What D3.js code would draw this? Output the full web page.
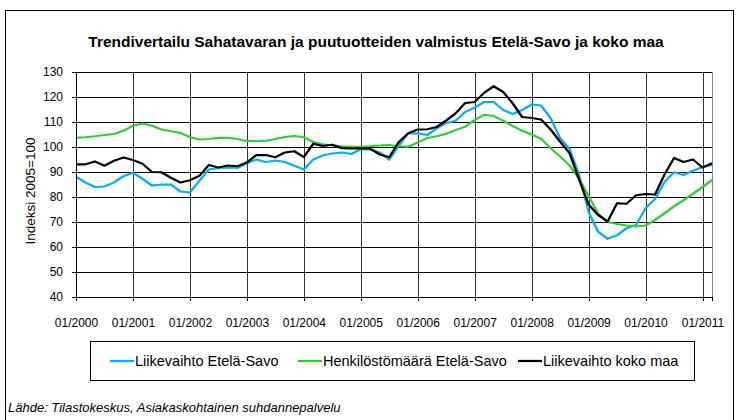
<!DOCTYPE html>
<html>
<head>
<meta charset="utf-8">
<script src="https://cdn.jsdelivr.net/npm/d3@7"></script>
<style>
  body { margin: 0; background: #fff; }
  text { font-family: "Liberation Sans", Arial, sans-serif; }
</style>
</head>
<body>
<script>
// month index counted from 01/2000, every second month up to 03/2011
var months = d3.range(0, 135, 2);

var liikevaihtoES = [88.1, 85.8, 84.0, 84.2, 85.8, 88.3, 89.7, 87.3, 84.6, 85.0,
  85.0, 82.2, 81.8, 86.5, 91.0, 91.6, 91.8, 91.6, 93.5, 95.0,
  94.0, 94.6, 94.0, 92.5, 91.0, 95.0, 96.6, 97.4, 97.8, 97.2,
  99.1, 99.0, 97.8, 95.0, 100.5, 105.5, 105.5, 104.8, 107.5, 109.6,
  110.5, 114.0, 115.8, 118.0, 118.0, 114.8, 113.2, 114.8, 117.0, 116.6,
  111.5, 103.5, 99.2, 88.8, 74.0, 66.1, 63.3, 64.7, 67.5, 68.8,
  75.5, 79.2, 86.0, 89.9, 88.8, 90.5, 92.0, 92.8];

var henkilostoES = [103.7, 103.9, 104.3, 104.8, 105.2, 106.5, 108.5, 109.4, 108.5, 107.0,
  106.3, 105.6, 104.0, 103.0, 103.2, 103.7, 103.7, 103.2, 102.4, 102.3,
  102.5, 103.2, 104.0, 104.4, 103.9, 102.0, 101.1, 100.7, 100.3, 100.1,
  100.1, 100.3, 100.6, 100.8, 100.3, 100.1, 101.8, 103.6, 104.3, 105.3,
  106.8, 108.1, 110.8, 112.9, 112.4, 110.5, 108.4, 106.5, 105.0, 103.3,
  99.5, 96.2, 92.6, 87.4, 80.4, 73.4, 70.0, 69.2, 68.6, 68.2,
  68.6, 70.8, 73.5, 76.3, 78.7, 81.3, 84.0, 86.8];

var liikevaihtoMaa = [93.1, 93.1, 94.2, 92.5, 94.5, 95.8, 94.8, 93.3, 90.0, 89.9,
  87.7, 85.8, 86.7, 88.5, 92.8, 91.8, 92.6, 92.3, 93.8, 96.8,
  96.8, 95.9, 97.8, 98.3, 96.0, 101.3, 100.4, 100.9, 99.5, 99.4,
  99.5, 99.3, 97.0, 95.9, 102.0, 105.5, 107.0, 107.1, 108.0, 110.6,
  113.5, 117.6, 118.0, 121.7, 124.3, 122.0, 117.5, 112.0, 111.6, 111.0,
  107.0, 102.1, 97.5, 87.0, 77.0, 72.8, 70.2, 77.5, 77.3, 80.7,
  81.2, 81.0, 89.0, 95.6, 94.0, 95.0, 91.8, 93.5];

var yearTicks = [0, 12, 24, 36, 48, 60, 72, 84, 96, 108, 120, 132];
var yearLabels = ["01/2000", "01/2001", "01/2002", "01/2003", "01/2004", "01/2005",
  "01/2006", "01/2007", "01/2008", "01/2009", "01/2010", "01/2011"];
var yTicks = [40, 50, 60, 70, 80, 90, 100, 110, 120, 130];

var seriesNames = ["Liikevaihto Etelä-Savo", "Henkilöstömäärä Etelä-Savo", "Liikevaihto koko maa"];
var colors = ["#00b0f0", "#33cc33", "#000000"];

var width = 739, height = 420;
var plot = {left: 76, right: 712, top: 72, bottom: 297};

var svg = d3.select("body").append("svg")
  .attr("width", width)
  .attr("height", height);

// outer frame
svg.append("rect")
  .attr("x", 5.5).attr("y", 10.5)
  .attr("width", 728).attr("height", 420)
  .attr("fill", "none")
  .attr("stroke", "#000")
  .attr("stroke-width", 1);

svg.append("text")
  .attr("x", 376).attr("y", 47)
  .attr("text-anchor", "middle")
  .style("font-size", "15.5px")
  .style("font-weight", "bold")
  .text("Trendivertailu Sahatavaran ja puutuotteiden valmistus Etelä-Savo ja koko maa");

var x = d3.scaleLinear().domain([0, 134]).range([plot.left, plot.right]);
var y = d3.scaleLinear().domain([40, 130]).range([plot.bottom, plot.top]);

// horizontal grid
svg.append("g")
  .attr("transform", "translate(" + plot.left + ",0)")
  .call(d3.axisLeft(y).tickValues(yTicks).tickSize(-(plot.right - plot.left)).tickFormat(""))
  .call(g => g.select(".domain").remove())
  .selectAll("line").attr("stroke", "#000").attr("shape-rendering", "crispEdges");

// vertical grid
svg.append("g")
  .attr("transform", "translate(0," + plot.bottom + ")")
  .call(d3.axisBottom(x).tickValues(yearTicks).tickSize(-(plot.bottom - plot.top)).tickFormat(""))
  .call(g => g.select(".domain").remove())
  .selectAll("line").attr("stroke", "#333").attr("shape-rendering", "crispEdges");

// right edge of plot area
svg.append("line")
  .attr("x1", plot.right).attr("x2", plot.right)
  .attr("y1", plot.top).attr("y2", plot.bottom)
  .attr("stroke", "#888").attr("shape-rendering", "crispEdges");

// lines
var line = d3.line()
  .x((d, i) => x(months[i]))
  .y(d => y(d));

[liikevaihtoES, henkilostoES, liikevaihtoMaa].forEach(function(s, k) {
  svg.append("path")
    .datum(s)
    .attr("fill", "none")
    .attr("stroke", colors[k])
    .attr("stroke-width", 2.25)
    .attr("stroke-linejoin", "round")
    .attr("d", line);
});

// y axis
var yAxis = svg.append("g")
  .attr("transform", "translate(" + plot.left + ",0)")
  .call(d3.axisLeft(y).tickValues(yTicks).tickSize(4).tickPadding(9));
yAxis.selectAll("line, path").attr("stroke", "#000").attr("shape-rendering", "crispEdges");
yAxis.selectAll("text").style("font-size", "12px").attr("fill", "#000")
  .style("font-family", "'Liberation Sans', Arial, sans-serif");

// x axis
var xAxis = svg.append("g")
  .attr("transform", "translate(0," + plot.bottom + ")")
  .call(d3.axisBottom(x).tickValues(yearTicks).tickSize(4).tickPadding(17)
    .tickFormat((d, i) => yearLabels[i]));
xAxis.selectAll("line, path").attr("stroke", "#000").attr("shape-rendering", "crispEdges");
xAxis.selectAll("text").style("font-size", "12px").attr("fill", "#000")
  .style("font-family", "'Liberation Sans', Arial, sans-serif");

svg.append("text")
  .attr("transform", "translate(35,191) rotate(-90)")
  .attr("text-anchor", "middle")
  .style("font-size", "13.5px")
  .text("Indeksi 2005=100");

// legend
svg.append("rect")
  .attr("x", 90.5).attr("y", 341.5)
  .attr("width", 604).attr("height", 39)
  .attr("fill", "#fff")
  .attr("stroke", "#000");

var legendX = [110, 298, 518];
var leg = svg.selectAll(".leg")
  .data(seriesNames)
  .enter().append("g")
  .attr("transform", (d, i) => "translate(" + legendX[i] + ",361)");
leg.append("line")
  .attr("x1", 0).attr("x2", 24)
  .attr("stroke", (d, i) => colors[i])
  .attr("stroke-width", 2.25);
leg.append("text")
  .attr("x", 25).attr("y", 5)
  .style("font-size", "14.5px")
  .text(d => d);

svg.append("text")
  .attr("x", 8).attr("y", 412)
  .style("font-size", "13px")
  .style("font-style", "italic")
  .text("Lähde: Tilastokeskus, Asiakaskohtainen suhdannepalvelu");
</script>
</body>
</html>
